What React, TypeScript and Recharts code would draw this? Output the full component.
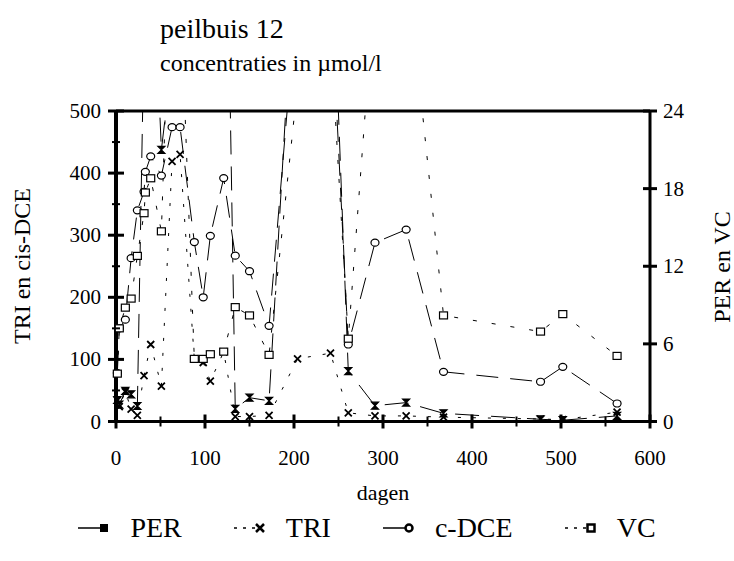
import { LineChart, Line, XAxis, YAxis, ReferenceLine } from 'recharts';

const days = [1.5, 3.7, 10.5, 17, 24, 31.5, 33, 39, 51, 63, 72, 88, 98, 106, 121, 134, 150, 172, 204, 241, 261, 291, 326, 368, 477, 502, 563];
const perValues = [1.66, 1.3, 2.36, 2.1, 1.2, 30, null, 40, 21, 28, 30, 32, 35, 40, 55, 0.97, 1.84, 1.6, 40, 40, 3.9, 1.22, 1.46, 0.63, 0.17, 0.1, 0.43];
const triValues = [34, 24, 48, 20, 10, 74, null, 124, 57, 419, 430, 101, 95, 65, 112, 8, 8, 10, 101, 110, 14, 9, 9, 7, 4, 3, 15];
const cdceValues = [78, 150, 164, 263, 340, 370, 402, 427, 396, 474, 474, 289, 200, 299, 392, 267, 242, 154, 700, 700, 124, 288, 309, 80, 64, 88, 29];
const vcValues = [3.7, 7.2, 8.8, 9.5, 12.8, 16.1, 17.7, 18.8, 14.7, 40, 34, 4.84, 4.84, 5.2, 5.4, 8.84, 8.2, 5.15, 26, 30, 6.4, 34, 36, 8.2, 6.95, 8.3, 5.07];

const xTicks = [0, 50, 100, 150, 200, 250, 300, 350, 400, 450, 500, 550, 600];
const leftTicks = [0, 50, 100, 150, 200, 250, 300, 350, 400, 450, 500];
const rightTicks = [0, 6, 12, 18, 24];

const data = days.map((d, i) => ({
  day: d,
  PER: perValues[i],
  TRI: triValues[i],
  cDCE: cdceValues[i],
  VC: vcValues[i],
}));

const FONT = '"Liberation Serif", "Times New Roman", serif';

const XTick = (props: any) => {
  const { x, y, payload } = props;
  const major = payload.value % 100 === 0;
  return (
    <g>
      <line x1={x} x2={x} y1={y - (major ? 7 : 5)} y2={y + (major ? 7 : 5)} stroke="#000" strokeWidth={major ? 3 : 2} />
      {major && (
        <text x={x} y={y + 43} textAnchor="middle" fontSize={21} fontFamily={FONT} fill="#000">
          {payload.value}
        </text>
      )}
    </g>
  );
};

const LeftTick = (props: any) => {
  const { x, y, payload } = props;
  const major = payload.value % 100 === 0;
  return (
    <g>
      <line x1={x - (major ? 8 : 4)} x2={x + (major ? 8 : 4)} y1={y} y2={y} stroke="#000" strokeWidth={major ? 3 : 2} />
      {major && (
        <text x={x - 15} y={y + 7} textAnchor="end" fontSize={21} fontFamily={FONT} fill="#000">
          {payload.value}
        </text>
      )}
    </g>
  );
};

const RightTick = (props: any) => {
  const { x, y, payload } = props;
  return (
    <g>
      <line x1={x - 7} x2={x + 7} y1={y} y2={y} stroke="#000" strokeWidth={3} />
      <text x={x + 13} y={y + 7} textAnchor="start" fontSize={21} fontFamily={FONT} fill="#000">
        {payload.value}
      </text>
    </g>
  );
};

const HourglassDot = (props: any) => {
  const { cx, cy, value } = props;
  if (value == null || cx == null || cy == null) return null;
  return (
    <path
      d={`M${cx - 3.5},${cy - 3.5}H${cx + 3.5}L${cx - 3.5},${cy + 3.5}H${cx + 3.5}Z`}
      fill="#000"
      stroke="#000"
      strokeWidth={1.2}
    />
  );
};

const CrossDot = (props: any) => {
  const { cx, cy, value } = props;
  if (value == null || cx == null || cy == null) return null;
  return (
    <path
      d={`M${cx - 3.5},${cy - 3.5}L${cx + 3.5},${cy + 3.5}M${cx + 3.5},${cy - 3.5}L${cx - 3.5},${cy + 3.5}`}
      stroke="#000"
      strokeWidth={1.8}
      fill="none"
    />
  );
};

const CircleDot = (props: any) => {
  const { cx, cy, value } = props;
  if (value == null || cx == null || cy == null) return null;
  return <ellipse cx={cx} cy={cy} rx={4} ry={3.5} fill="#fff" stroke="#000" strokeWidth={1.2} />;
};

const SquareDot = (props: any) => {
  const { cx, cy, value } = props;
  if (value == null || cx == null || cy == null) return null;
  return <rect x={cx - 4} y={cy - 3.5} width={8} height={7} fill="#fff" stroke="#000" strokeWidth={1.2} />;
};

const legendItems = [
  { name: 'PER', dash: '12 0', marker: 'square' },
  { name: 'TRI', dash: '3 6', marker: 'cross' },
  { name: 'c-DCE', dash: '12 0', marker: 'circle' },
  { name: 'VC', dash: '3 6', marker: 'box' },
];

const LegendIcon = ({ dash, marker }: { dash: string; marker: string }) => (
  <svg width={34} height={16} style={{ marginRight: 18 }}>
    <line x1={0} x2={22} y1={8} y2={8} stroke="#000" strokeWidth={1.5} strokeDasharray={dash} />
    {marker === 'square' && <rect x={22} y={4} width={8} height={8} fill="#000" />}
    {marker === 'cross' && (
      <path d="M22,4L30,12M30,4L22,12" stroke="#000" strokeWidth={2.5} />
    )}
    {marker === 'circle' && <circle cx={26} cy={8} r={3.5} fill="#fff" stroke="#000" strokeWidth={2.5} />}
    {marker === 'box' && <rect x={22.5} y={4.5} width={7} height={7} fill="#fff" stroke="#000" strokeWidth={2.5} />}
  </svg>
);

export default function App() {
  return (
    <div style={{ position: 'absolute', left: 0, top: 0, width: 734, height: 561, background: '#fff', fontFamily: FONT }}>
      <div style={{ position: 'absolute', left: 160, top: 12, fontSize: 28, lineHeight: '34px' }}>peilbuis 12</div>
      <div style={{ position: 'absolute', left: 160, top: 48, fontSize: 24, lineHeight: '30px' }}>concentraties in µmol/l</div>
      <LineChart width={734} height={561} data={data} margin={{ top: 111, right: 24, left: 56, bottom: 99.5 }}>
        <XAxis
          dataKey="day"
          type="number"
          domain={[0, 600]}
          ticks={xTicks}
          tick={<XTick />}
          tickSize={0}
          tickMargin={0}
          height={40}
          axisLine={{ stroke: '#000', strokeWidth: 3 }}
          tickLine={false}
          interval={0}
        />
        <YAxis
          yAxisId="left"
          domain={[0, 500]}
          ticks={leftTicks}
          allowDataOverflow
          tick={<LeftTick />}
          tickSize={0}
          tickMargin={0}
          width={60}
          axisLine={{ stroke: '#000', strokeWidth: 4 }}
          tickLine={false}
          interval={0}
        />
        <YAxis
          yAxisId="right"
          orientation="right"
          domain={[0, 24]}
          ticks={rightTicks}
          allowDataOverflow
          tick={<RightTick />}
          tickSize={0}
          tickMargin={0}
          width={60}
          axisLine={{ stroke: '#000', strokeWidth: 3 }}
          tickLine={false}
          interval={0}
        />
        <ReferenceLine yAxisId="left" y={500} stroke="#000" strokeWidth={3} />
        <Line yAxisId="right" dataKey="PER" stroke="#000" strokeWidth={1} strokeDasharray="24 12" dot={<HourglassDot />} activeDot={false} connectNulls isAnimationActive={false} />
        <Line yAxisId="left" dataKey="TRI" stroke="#000" strokeWidth={1} strokeDasharray="3 12" dot={<CrossDot />} activeDot={false} connectNulls isAnimationActive={false} />
        <Line yAxisId="left" dataKey="cDCE" stroke="#000" strokeWidth={1} strokeDasharray="22 12" dot={<CircleDot />} activeDot={false} connectNulls isAnimationActive={false} />
        <Line yAxisId="right" dataKey="VC" stroke="#000" strokeWidth={1} strokeDasharray="4 15" dot={<SquareDot />} activeDot={false} connectNulls isAnimationActive={false} />
      </LineChart>
      <div style={{ position: 'absolute', left: 22, top: 266, transform: 'translate(-50%, -50%) rotate(-90deg)', fontSize: 24, whiteSpace: 'nowrap' }}>
        TRI en cis-DCE
      </div>
      <div style={{ position: 'absolute', left: 722, top: 267, transform: 'translate(-50%, -50%) rotate(-90deg)', fontSize: 24, whiteSpace: 'nowrap' }}>
        PER en VC
      </div>
      <div style={{ position: 'absolute', left: 383, top: 493, transform: 'translate(-50%, -50%)', fontSize: 22 }}>dagen</div>
      <div style={{ position: 'absolute', left: 0, width: 734, top: 512, display: 'flex', justifyContent: 'center', alignItems: 'center', fontSize: 28 }}>
        {legendItems.map((it) => (
          <div key={it.name} style={{ display: 'flex', alignItems: 'center', margin: '0 26px' }}>
            <LegendIcon dash={it.dash} marker={it.marker} />
            <span>{it.name}</span>
          </div>
        ))}
      </div>
    </div>
  );
}
